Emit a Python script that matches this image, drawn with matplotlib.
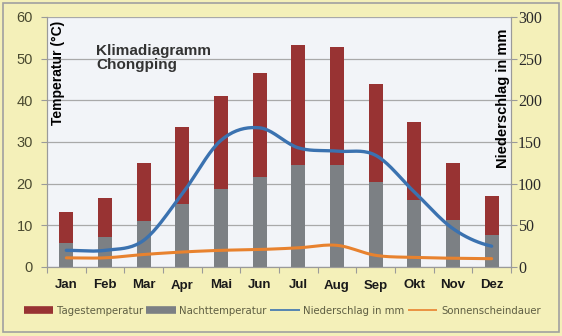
import numpy as np
import matplotlib
matplotlib.use("Agg")
import matplotlib.pyplot as plt
from matplotlib.lines import Line2D
from matplotlib.patches import Rectangle

monate = ["Jan", "Feb", "Mar", "Apr", "Mai", "Jun", "Jul", "Aug", "Sep", "Okt", "Nov", "Dez"]
tages_temp = [13.2, 16.5, 25.0, 33.7, 41.0, 46.5, 53.2, 52.8, 44.0, 34.8, 25.0, 17.0]
nacht_temp = [5.7, 7.1, 11.0, 15.1, 18.7, 21.5, 24.5, 24.5, 20.4, 16.2, 11.2, 7.6]
niederschlag = [20, 20, 32, 88, 152, 167, 143, 139, 134, 90, 46, 25]
sonne = [11, 11, 15, 18, 20, 21, 23, 26, 14, 11.5, 10.5, 10]

COR_FUNDO = "#F4F0B9"
COR_PLOT = "#F2F4F8"
COR_TAG = "#983333"
COR_NACHT = "#7C8084"
COR_BLAU = "#3B72B0"
COR_ORANGE = "#E8822E"
COR_GRID = "#A9A9A9"


def suavizar(y, n=20):
    # curva suave tipo Excel (Catmull-Rom) passando pelos pontos
    y = np.asarray(y, float)
    x = np.arange(len(y), dtype=float)
    p = np.concatenate([[y[0]], y, [y[-1]]])
    xs, ys = [], []
    for i in range(len(y) - 1):
        p0, p1, p2, p3 = p[i], p[i + 1], p[i + 2], p[i + 3]
        t = np.linspace(0, 1, n, endpoint=False)
        yy = 0.5 * ((2 * p1) + (-p0 + p2) * t + (2 * p0 - 5 * p1 + 4 * p2 - p3) * t ** 2
                    + (-p0 + 3 * p1 - 3 * p2 + p3) * t ** 3)
        xs.append(x[i] + t)
        ys.append(yy)
    xs.append([x[-1]])
    ys.append([y[-1]])
    return np.concatenate(xs), np.concatenate(ys)


fig = plt.figure(figsize=(5.62, 3.36), dpi=100, facecolor=COR_FUNDO)
fig.patches.append(Rectangle((3 / 562, 4 / 336), 556 / 562, 329 / 336,
                             transform=fig.transFigure, facecolor="none",
                             edgecolor="#A0A0A0", linewidth=1.2))

ax = fig.add_axes([47 / 562, 1 - 267 / 336, 464 / 562, 250 / 336])
ax.set_facecolor(COR_PLOT)
ax2 = ax.twinx()

x = np.arange(len(monate))
ax.bar(x, tages_temp, width=0.37, color=COR_TAG, zorder=2)
ax.bar(x, nacht_temp, width=0.37, color=COR_NACHT, zorder=3)

xs, ys = suavizar(niederschlag)
ax2.plot(xs, ys, color=COR_BLAU, lw=2.4, solid_capstyle="round")
xs, ys = suavizar(sonne)
ax2.plot(xs, ys, color=COR_ORANGE, lw=2.2, solid_capstyle="round")

ax.set_xlim(-0.5, 11.5)
ax.set_ylim(0, 60)
ax2.set_ylim(0, 300)
ax.set_yticks(range(0, 61, 10))
ax2.set_yticks(range(0, 301, 50))
ax.yaxis.grid(True, color=COR_GRID, lw=0.9, zorder=0)
ax.set_axisbelow(True)

for a in (ax, ax2):
    for s in a.spines.values():
        s.set_color("#9A9A9A")
    a.spines["top"].set_visible(False)

ax.set_xticks(np.arange(-0.5, 12, 1))
ax.set_xticklabels([])
ax.set_xticks(x, minor=True)
ax.set_xticklabels(monate, minor=True, fontsize=9.5, fontweight="bold",
                   family="Liberation Sans", color="#1A1A1A")
ax.tick_params(axis="x", which="major", length=4, color="#9A9A9A", direction="out")
ax.tick_params(axis="x", which="minor", length=0, pad=9)
ax.tick_params(axis="y", length=4, color="#9A9A9A", labelsize=10.5,
               labelcolor="#4A4A30", pad=6)
for lab in ax.get_yticklabels():
    lab.set_family("Liberation Sans")
ax2.tick_params(axis="y", length=4, color="#9A9A9A", labelsize=11.5,
                labelcolor="#2A2A2A", pad=1)
for lab in ax2.get_yticklabels():
    lab.set_family("Liberation Serif")

fig.text(58 / 562, 1 - 73 / 336, "Temperatur (°C)", rotation=90, ha="center",
         va="center", fontsize=10, fontweight="bold", family="Liberation Sans")
fig.text(503 / 562, 1 - 98 / 336, "Niederschlag in mm", rotation=90, ha="center",
         va="center", fontsize=10.5, fontweight="bold", family="Liberation Sans")
fig.text(96 / 562, 1 - 58 / 336, "Klimadiagramm\nChongping", ha="left",
         va="center", fontsize=11, fontweight="bold", family="Liberation Sans",
         color="#333333", linespacing=0.95)

handles = [
    Line2D([], [], color=COR_TAG, lw=5.5, solid_capstyle="butt"),
    Line2D([], [], color=COR_NACHT, lw=5.5, solid_capstyle="butt"),
    Line2D([], [], color=COR_BLAU, lw=1.2, solid_capstyle="butt"),
    Line2D([], [], color=COR_ORANGE, lw=1.2, solid_capstyle="butt"),
]
labels = ["Tagestemperatur", "Nachttemperatur", "Niederschlag in mm", "Sonnenscheindauer"]
leg = fig.legend(handles, labels, loc="center", bbox_to_anchor=(0.502, 1 - 311 / 336),
                 ncol=4, frameon=False, handlelength=2.9, handletextpad=0.35,
                 columnspacing=0.35, prop={"family": "DejaVu Sans", "size": 7.3})
for t in leg.get_texts():
    t.set_color("#5E5E42")

fig.savefig("out.png", dpi=100, facecolor=COR_FUNDO)
